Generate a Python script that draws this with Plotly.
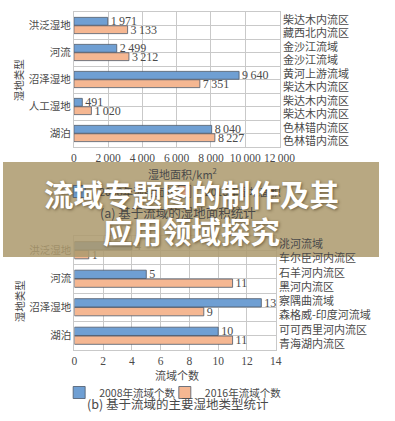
import plotly.graph_objects as go

# ---------------- data ----------------
cats_a = ["洪泛湿地", "河流", "沼泽湿地", "人工湿地", "湖泊"]
area_2008 = [1971, 2499, 9640, 491, 8040]
area_2016 = [3133, 3212, 7351, 1020, 8227]
basin_a_2008 = ["柴达木内流区", "金沙江流域", "黄河上游流域", "柴达木内流区", "色林错内流区"]
basin_a_2016 = ["藏西北内流区", "金沙江流域", "柴达木内流区", "柴达木内流区", "色林错内流区"]

cats_b = ["洪泛湿地", "河流", "沼泽湿地", "湖泊"]
count_2008 = [4, 5, 13, 10]
count_2016 = [1, 11, 9, 11]
basin_b_2008 = ["洮河流域", "石羊河内流区", "察隅曲流域", "可可西里河内流区"]
basin_b_2016 = ["车尔臣河内流区", "黑河内流区", "森格威-印度河流域", "青海湖内流区"]

ticks_a = [0, 2000, 4000, 6000, 8000, 10000, 12000]
ticks_b = [0, 2, 4, 6, 8, 10, 12, 14]

title_lines = ["流域专题图的制作及其", "应用领域探究"]

# ---------------- style ----------------
W, H = 395, 421
BLUE = "#6f9fd3"
ORANGE = "#f5b792"
EDGE = "#4d5868"
TXT = "#4a4a4a"
GRID = "#c9c9c9"
SERIF = "Liberation Serif, Noto Sans CJK SC, serif"
CJK = "Noto Sans CJK SC, Liberation Serif, sans-serif"


def fmt(v):
    return f"{v:,}".replace(",", "\u2009")


def px_x(p):
    return p / W


def px_y(p):
    return 1 - p / H


fig = go.Figure()

ya = list(range(len(cats_a)))
yb = list(range(len(cats_b)))

common_bar = dict(orientation="h", textposition="outside", cliponaxis=False,
                  constraintext="none",
                  textfont=dict(family=SERIF, size=12, color=TXT),
                  marker_line=dict(color=EDGE, width=0.8))

fig.add_trace(go.Bar(y=ya, x=area_2008, name="2008年湿地面积", text=[fmt(v) for v in area_2008],
                     marker_color=BLUE, xaxis="x", yaxis="y", legend="legend3", **common_bar))
fig.add_trace(go.Bar(y=ya, x=area_2016, name="2016年湿地面积", text=[fmt(v) for v in area_2016],
                     marker_color=ORANGE, xaxis="x", yaxis="y", legend="legend4", **common_bar))
fig.add_trace(go.Bar(y=yb, x=count_2008, name="2008年流域个数", text=[str(v) for v in count_2008],
                     marker_color=BLUE, xaxis="x2", yaxis="y2", legend="legend", **common_bar))
fig.add_trace(go.Bar(y=yb, x=count_2016, name="2016年流域个数", text=[str(v) for v in count_2016],
                     marker_color=ORANGE, xaxis="x2", yaxis="y2", legend="legend2", **common_bar))

axis_common = dict(showline=True, linecolor=GRID, mirror=True, showgrid=True, gridcolor=GRID,
                   gridwidth=1, zeroline=False, ticks="", fixedrange=True)


def leg(x, y):
    return dict(orientation="h", x=px_x(x), y=px_y(y), xanchor="left", yanchor="top",
                font=dict(family=CJK, size=10.5, color=TXT), itemwidth=30,
                bgcolor="rgba(0,0,0,0)")


fig.update_layout(
    width=W, height=H, margin=dict(l=0, r=0, t=0, b=0),
    paper_bgcolor="white", plot_bgcolor="white",
    barmode="group", bargap=0.38, bargroupgap=0.06,
    font=dict(family=CJK, color=TXT, size=11),
    xaxis=dict(domain=[px_x(74.5), px_x(290.5)], anchor="y", range=[0, 12000],
               tickvals=ticks_a, ticktext=[fmt(v) for v in ticks_a],
               tickfont=dict(family=SERIF, size=11.5, color=TXT), **axis_common),
    yaxis=dict(domain=[px_y(147), px_y(12)], anchor="x", range=[len(cats_a) - 0.5, -0.5],
               tickvals=ya, ticktext=cats_a, tickfont=dict(family=CJK, size=10.5, color=TXT),
               minor=dict(tickvals=[i - 0.5 for i in range(len(cats_a) + 1)], showgrid=True,
                          gridcolor=GRID, ticks=""),
               **axis_common),
    xaxis2=dict(domain=[px_x(75), px_x(286.5)], anchor="y2", range=[0, 14],
                tickvals=ticks_b, ticktext=[str(v) for v in ticks_b],
                tickfont=dict(family=SERIF, size=11.5, color=TXT), **axis_common),
    yaxis2=dict(domain=[px_y(350), px_y(236)], anchor="x2", range=[len(cats_b) - 0.5, -0.5],
                tickvals=yb, ticktext=cats_b, tickfont=dict(family=CJK, size=10.5, color=TXT),
                minor=dict(tickvals=[i - 0.5 for i in range(len(cats_b) + 1)], showgrid=True,
                           gridcolor=GRID, ticks=""),
                **axis_common),
    showlegend=True,
    legend=leg(59, 378),
    legend2=leg(170, 378),
    legend3=leg(59, 177),
    legend4=leg(170, 177),
)

ann = []
# right-side basin labels
for i in ya:
    ann.append(dict(xref="x domain", yref="y", x=1, y=i - 0.25, text=basin_a_2008[i],
                    xanchor="left", yanchor="middle", xshift=1, showarrow=False,
                    font=dict(family=CJK, size=11, color=TXT)))
    ann.append(dict(xref="x domain", yref="y", x=1, y=i + 0.25, text=basin_a_2016[i],
                    xanchor="left", yanchor="middle", xshift=1, showarrow=False,
                    font=dict(family=CJK, size=11, color=TXT)))
for i in yb:
    ann.append(dict(xref="x2 domain", yref="y2", x=1, y=i - 0.25, text=basin_b_2008[i],
                    xanchor="left", yanchor="middle", xshift=1, showarrow=False,
                    font=dict(family=CJK, size=11, color=TXT)))
    ann.append(dict(xref="x2 domain", yref="y2", x=1, y=i + 0.25, text=basin_b_2016[i],
                    xanchor="left", yanchor="middle", xshift=1, showarrow=False,
                    font=dict(family=CJK, size=11, color=TXT)))


# axis titles and captions
def label(text, x, y, size=11, angle=0):
    return dict(xref="paper", yref="paper", x=px_x(x), y=px_y(y), text=text, showarrow=False,
                xanchor="center", yanchor="middle", textangle=angle,
                font=dict(family=CJK, size=size, color=TXT))


ann.append(label("湿地类型", 17, 80, 10.5, -90))
ann.append(label("湿地类型", 17, 301, 10.5, -90))
ann.append(label("湿地面积/km<sup>2</sup>", 189, 173, 11))
ann.append(label("(a) 基于流域的湿地面积统计", 184, 212, 12.5))
ann.append(label("流域个数", 183, 375, 11))
ann.append(label("(b) 基于流域的主要湿地类型统计", 183, 403, 12.5))

# banner title
for txt, yy in zip(title_lines, [193, 230]):
    ann.append(dict(xref="paper", yref="paper", x=px_x(198), y=px_y(yy), text=f"<b>{txt}</b>",
                    showarrow=False, xanchor="center", yanchor="middle",
                    font=dict(family="Noto Sans CJK SC", size=29.5, color="white",
                              shadow="1px 1px 3px rgba(60,45,20,0.6)")))

fig.update_layout(annotations=ann)

fig.update_layout(shapes=[dict(type="rect", xref="paper", yref="paper", x0=0, x1=1,
                               y0=px_y(257), y1=px_y(162), fillcolor="rgb(172,154,110)",
                               opacity=0.86, line_width=0, layer="above")])

fig.write_html("out.html", config={"displayModeBar": False},
               post_script="document.body.style.margin='0';document.body.style.padding='0';")
